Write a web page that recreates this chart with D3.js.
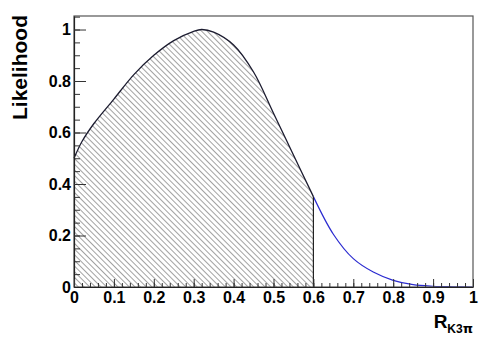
<!DOCTYPE html>
<html>
<head>
<meta charset="utf-8">
<script src="https://cdn.jsdelivr.net/npm/d3@7"></script>
<style>
  body { margin: 0; background: #fff; }
  svg { display: block; }
  .tick text { font-family: "Liberation Sans", Arial, Helvetica, sans-serif; font-weight: bold; font-size: 16px; fill: #000; }
</style>
</head>
<body>
<svg id="chart" width="498" height="338"></svg>
<script>
// likelihood scan vs R_K3pi
var xs         = [0, 0.02, 0.05, 0.1, 0.15, 0.2, 0.25, 0.3, 0.32, 0.35, 0.4, 0.45, 0.5, 0.55, 0.6, 0.65, 0.7, 0.75, 0.8, 0.85, 0.9, 0.95, 1.0];
var likelihood = [0.50, 0.565, 0.635, 0.73, 0.825, 0.90, 0.957, 0.993, 1.0, 0.99, 0.94, 0.835, 0.675, 0.513, 0.351, 0.205, 0.11, 0.058, 0.026, 0.009, 0.003, 0.001, 0.0];
var CUT = 0.6;

var xMajor = d3.range(0, 1.0001, 0.1);
var xMinor = d3.range(0, 1.0001, 0.02);
var yMajor = [0, 0.2, 0.4, 0.6, 0.8, 1];
var yMinor = d3.range(0, 1.0501, 0.05);

var W = 498, H = 338;
var margin = { left: 74, top: 16, right: 25, bottom: 51 };
var pw = W - margin.left - margin.right;   // 399
var ph = H - margin.top - margin.bottom;   // 271

var svg = d3.select('#chart');

var x = d3.scaleLinear().domain([0, 1]).range([0, pw]);
var y = d3.scaleLinear().domain([0, 1.0525]).range([ph, 0]);

// hatch pattern
var defs = svg.append('defs');
defs.append('pattern')
  .attr('id', 'hatch')
  .attr('patternUnits', 'userSpaceOnUse')
  .attr('width', 4).attr('height', 4)
  .attr('patternTransform', 'rotate(45)')
  .append('line')
  .attr('x1', 0).attr('y1', 0.5).attr('x2', 4).attr('y2', 0.5)
  .attr('stroke', '#7a7a7a').attr('stroke-width', 0.7);

var g = svg.append('g').attr('transform', 'translate(' + margin.left + ',' + margin.top + ')');

var pts = xs.map(function(d, i) { return { x: d, y: likelihood[i] }; });
var left  = pts.filter(function(d) { return d.x <= CUT; });
var right = pts.filter(function(d) { return d.x >= CUT; });

var area = d3.area()
  .x(function(d) { return x(d.x); })
  .y0(y(0))
  .y1(function(d) { return y(d.y); })
  .curve(d3.curveCatmullRom.alpha(0.5));

var line = d3.line()
  .x(function(d) { return x(d.x); })
  .y(function(d) { return y(d.y); })
  .curve(d3.curveCatmullRom.alpha(0.5));

// hatched area up to the cut
g.append('path')
  .datum(left)
  .attr('d', area)
  .attr('fill', 'url(#hatch)');

// blue tail
g.append('path')
  .datum(right)
  .attr('d', line)
  .attr('fill', 'none')
  .attr('stroke', '#2b2bd0')
  .attr('stroke-width', 1.2);

// black curve
g.append('path')
  .datum(left)
  .attr('d', line)
  .attr('fill', 'none')
  .attr('stroke', '#1c1c30')
  .attr('stroke-width', 1.3);

// vertical cut line
var cutY = likelihood[xs.indexOf(CUT)];
g.append('line')
  .attr('x1', x(CUT)).attr('x2', x(CUT))
  .attr('y1', y(0)).attr('y2', y(cutY))
  .attr('stroke', '#222').attr('stroke-width', 1.2);

// frame
g.append('rect')
  .attr('x', 0).attr('y', 0)
  .attr('width', pw).attr('height', ph)
  .attr('fill', 'none')
  .attr('stroke', '#555').attr('stroke-width', 1.2);

// y axis
g.append('g')
  .call(d3.axisLeft(y).tickValues(yMinor).tickSize(-6).tickFormat(''))
  .call(function(s) { s.select('.domain').remove(); });
g.append('g')
  .call(d3.axisLeft(y).tickValues(yMajor).tickSizeInner(-12).tickSizeOuter(0).tickPadding(3)
    .tickFormat(function(d) { return d3.format('~g')(d); }))
  .call(function(s) { s.select('.domain').attr('stroke', '#222').attr('stroke-width', 1.2); });

// x axis
g.append('g')
  .attr('transform', 'translate(0,' + ph + ')')
  .call(d3.axisBottom(x).tickValues(xMinor).tickSize(-4).tickFormat(''))
  .call(function(s) { s.select('.domain').remove(); });
g.append('g')
  .attr('transform', 'translate(0,' + ph + ')')
  .call(d3.axisBottom(x).tickValues(xMajor).tickSizeInner(-8).tickSizeOuter(0).tickPadding(5)
    .tickFormat(function(d) { return d3.format('~g')(d); }))
  .call(function(s) { s.select('.domain').attr('stroke', '#222').attr('stroke-width', 1.2); });

g.selectAll('.tick line').attr('stroke', '#333');

// axis titles
svg.append('text')
  .attr('transform', 'translate(27,' + 15 + ') rotate(-90)')
  .attr('text-anchor', 'end')
  .style('font-family', '"Liberation Sans", Arial, Helvetica, sans-serif')
  .style('font-weight', 'bold')
  .style('font-size', '21px')
  .text('Likelihood');

var xt = svg.append('text')
  .attr('x', margin.left + pw)
  .attr('y', 328)
  .attr('text-anchor', 'end')
  .style('font-family', '"Liberation Sans", Arial, Helvetica, sans-serif')
  .style('font-weight', 'bold')
  .style('font-size', '19px');
xt.append('tspan').text('R');
xt.append('tspan').attr('dy', 5).style('font-size', '12px').text('K3');
xt.append('tspan').style('font-size', '13px').style('font-family', '"DejaVu Sans", sans-serif').text('π');
</script>
</body>
</html>
